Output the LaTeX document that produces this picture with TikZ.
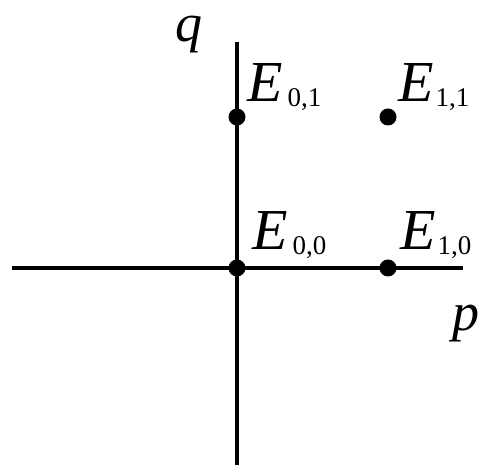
\documentclass[tikz,border=0pt]{standalone}
\usepackage{fontspec}
\setmainfont{Liberation Serif}
\newcommand\esub[1]{\raisebox{-5pt}{\upshape\fontsize{27}{27}\selectfont #1}}
\begin{document}
\begin{tikzpicture}[x=1pt,y=1pt,
  axis/.style={line width=4pt},
  dot/.style={circle,fill=black,inner sep=0pt,minimum size=17pt},
  lab/.style={inner sep=0pt,anchor=base west,font=\fontsize{58}{58}\selectfont\itshape},
  axlab/.style={inner sep=0pt,anchor=base west,font=\fontsize{54}{54}\selectfont\itshape}]
\useasboundingbox (0,0) rectangle (480,465);
\coordinate (xl) at (12,197);
\coordinate (xr) at (463,197);
\coordinate (yt) at (237,423);
\coordinate (yb) at (237,0);
\draw[axis] (xl) -- (xr);
\draw[axis] (yt) -- (yb);
\node[dot] (e00) at (237,197) {};
\node[dot] (e10) at (388,197) {};
\node[dot] (e01) at (237,348) {};
\node[dot] (e11) at (388,348) {};
\node[lab] (l00) at (252,215) {E\hspace{5pt}\esub{0,0}};
\node[lab] (l10) at (400,215) {E\hspace{2pt}\esub{1,0}};
\node[lab] (l01) at (247,363) {E\hspace{5pt}\esub{0,1}};
\node[lab] (l11) at (398,363) {E\hspace{2pt}\esub{1,1}};
\node[axlab] (q) at (175,423) {q};
\node[axlab] (p) at (452,134) {p};
\end{tikzpicture}
\end{document}
